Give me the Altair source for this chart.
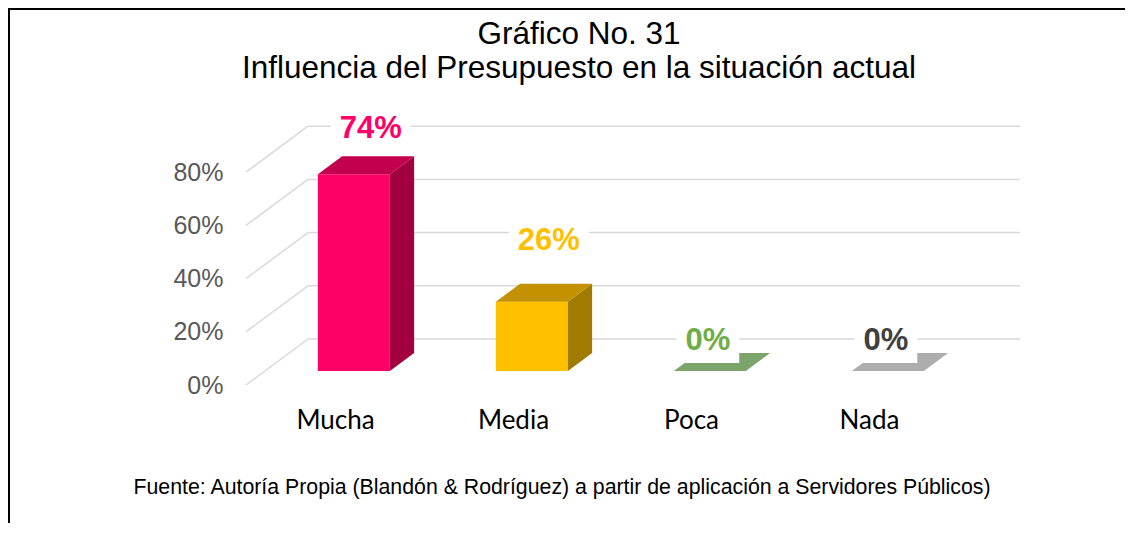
import json
import altair as alt
import pandas as pd

# ---------------- data ----------------
categories = ["Mucha", "Media", "Poca", "Nada"]
values = [74, 26, 0, 0]
front_colors = ["#FF0066", "#FFC000", "#70AD47", "#A5A5A5"]
top_colors = ["#C2004E", "#C49200", "#7DA46A", "#ADADAD"]
side_colors = ["#A3003F", "#A17A00", "#5E8A46", "#8C8C8C"]
label_colors = ["#FF0066", "#FFC000", "#70AD47", "#404040"]
y_ticks = [0, 20, 40, 60, 80]
title_lines = ["Gráfico No. 31", "Influencia del Presupuesto en la situación actual"]
source_text = "Fuente: Autoría Propia (Blandón & Rodríguez) a partir de aplicación a  Servidores Públicos)"

# ---------------- geometry (style constants) ----------------
N = len(categories)
PX_X = 178.0          # pixels per category band
PX_Y = 2.66           # pixels per percentage point
WX = 62 / PX_X        # depth of the 3D floor along x (category units)
WY = 46 / PX_Y        # depth of the 3D floor along y (percent units)
FB = 14 / 46          # depth fraction of bar front face
BB = 32 / 46          # depth fraction of bar back face
HW = 36 / PX_X        # half bar width
W = (N + WX) * PX_X
H = 100 * PX_Y
LABEL_FS = 31

xs = alt.Scale(domain=[0, N + WX], nice=False, zero=False)
ys = alt.Scale(domain=[0, 100], nice=False, zero=False)

# gridlines
back = pd.DataFrame({"x": [WX] * len(y_ticks), "x2": [N + WX] * len(y_ticks),
                     "y": [v + WY for v in y_ticks]})
diag = pd.DataFrame({"x": [0.0] * len(y_ticks), "x2": [WX] * len(y_ticks),
                     "y": [float(v) for v in y_ticks], "y2": [v + WY for v in y_ticks]})

front_rows, side_rows, top_rows, lab_rows = [], [], [], []
dx = (BB - FB) * WX
for i, (c, v) in enumerate(zip(categories, values)):
    xl = i + 0.5 - HW + FB * WX
    xr = i + 0.5 + HW + FB * WX
    front_rows.append({"cat": c, "x": xl, "x2": xr, "y": FB * WY, "y2": v + FB * WY,
                       "col": front_colors[i]})
    side_rows += [
        {"cat": c, "x": xr, "y": FB * WY, "y2": v + FB * WY, "col": side_colors[i]},
        {"cat": c, "x": xr + dx, "y": BB * WY, "y2": v + BB * WY, "col": side_colors[i]},
    ]
    ytf, ytb = v + FB * WY, v + BB * WY
    top_rows += [
        {"cat": c, "x": xl, "y": ytf, "y2": ytf, "col": top_colors[i]},
        {"cat": c, "x": xl + dx, "y": ytf, "y2": ytb, "col": top_colors[i]},
        {"cat": c, "x": xr, "y": ytf, "y2": ytb, "col": top_colors[i]},
        {"cat": c, "x": xr + dx, "y": ytb, "y2": ytb, "col": top_colors[i]},
    ]
    txt = f"{v}%"
    lx = i + 0.5 + FB * WX + ((17 if v > 0 else -2) / PX_X)
    ly = min(v * 1.44 + 16.7, 96.2)
    tw = (0.556 * len(str(v)) + 0.889) * LABEL_FS
    hw = (tw / 2 + 9) / PX_X
    hh = 22.5 / PX_Y
    lab_rows.append({"cat": c, "t": txt, "x": lx, "y": ly, "bx": lx - hw, "bx2": lx + hw,
                     "by": ly - hh, "by2": ly + hh, "col": label_colors[i]})

front = pd.DataFrame(front_rows)
side = pd.DataFrame(side_rows)
top = pd.DataFrame(top_rows)
labs = pd.DataFrame(lab_rows)

GRID = "#D9D9D9"

x_axis = alt.Axis(values=[i + 0.5 for i in range(N)],
                  labelExpr=f"{json.dumps(categories)}[floor(datum.value)]",
                  domain=False, ticks=False, tickSize=0, grid=False, labelPadding=43,
                  labelFont="Lato", labelFontSize=26, labelColor="#000000",
                  labelBaseline="alphabetic", labelOverlap=False, labelFlush=False, title=None)
y_axis = alt.Axis(values=y_ticks, labelExpr="datum.value + '%'", domain=False, ticks=False,
                  tickSize=0, grid=False, labelPadding=23, labelFont="Liberation Sans",
                  labelFontSize=25, labelColor="#595959", labelBaseline="middle", title=None)


def X(f):
    return alt.X(f, scale=xs, axis=x_axis, title=None)


def Y(f):
    return alt.Y(f, scale=ys, axis=y_axis, title=None)


grid_back = alt.Chart(back).mark_rule(color=GRID, strokeWidth=1.5).encode(
    x=X("x:Q"), x2="x2:Q", y=Y("y:Q"))
grid_diag = alt.Chart(diag).mark_rule(color=GRID, strokeWidth=1.5).encode(
    x=X("x:Q"), x2="x2:Q", y=Y("y:Q"), y2="y2:Q")

front_l = alt.Chart(front).mark_rect().encode(
    x=X("x:Q"), x2="x2:Q", y=Y("y:Q"), y2="y2:Q",
    color=alt.Color("col:N", scale=None))
side_l = alt.Chart(side).mark_area().encode(
    x=X("x:Q"), y=Y("y:Q"), y2="y2:Q",
    color=alt.Color("col:N", scale=None), detail="cat:N")
top_l = alt.Chart(top).mark_area().encode(
    x=X("x:Q"), y=Y("y:Q"), y2="y2:Q",
    color=alt.Color("col:N", scale=None), detail="cat:N")

box_l = alt.Chart(labs).mark_rect(color="white").encode(
    x=X("bx:Q"), x2="bx2:Q", y=Y("by:Q"), y2="by2:Q")
text_l = alt.Chart(labs).mark_text(font="Liberation Sans", fontSize=LABEL_FS, fontWeight="bold",
                                   baseline="middle", align="center").encode(
    x=X("x:Q"), y=Y("y:Q"),
    text="t:N", color=alt.Color("col:N", scale=None))

PAD_L, PAD_T, PAD_R, PAD_B = 238, 111, 105, 138
TOTAL_W = PAD_L + W + PAD_R
TOTAL_H = PAD_T + H + PAD_B

one = pd.DataFrame({"a": [0]})
frame_top = alt.Chart(one).mark_rule(color="black", strokeWidth=2).encode(
    x=alt.value(-PAD_L), x2=alt.value(TOTAL_W - PAD_L), y=alt.value(-PAD_T + 1))
frame_left = alt.Chart(one).mark_rule(color="black", strokeWidth=2).encode(
    x=alt.value(-PAD_L + 1), y=alt.value(-PAD_T), y2=alt.value(TOTAL_H - PAD_T))

t1 = alt.Chart(pd.DataFrame({"t": [title_lines[0]]})).mark_text(
    font="Liberation Sans", fontSize=31.5, color="black", align="center", baseline="alphabetic"
).encode(x=alt.value(333), y=alt.value(-75), text="t:N")
t2 = alt.Chart(pd.DataFrame({"t": [title_lines[1]]})).mark_text(
    font="Liberation Sans", fontSize=31.5, color="black", align="center", baseline="alphabetic"
).encode(x=alt.value(333), y=alt.value(-41), text="t:N")
src = alt.Chart(pd.DataFrame({"t": [source_text]})).mark_text(
    font="Liberation Sans", fontSize=21.3, color="black", align="center", baseline="alphabetic"
).encode(x=alt.value(316), y=alt.value(375), text="t:N")

chart = alt.layer(
    grid_back, grid_diag, front_l, side_l, top_l, box_l, text_l,
    frame_top, frame_left, t1, t2, src
).properties(
    width=W, height=H,
    autosize=alt.AutoSizeParams(type="none"),
    padding={"left": PAD_L, "top": PAD_T, "right": PAD_R, "bottom": PAD_B},
    background="white",
).configure_view(strokeWidth=0)

chart.save("out.html", embed_options={"renderer": "svg", "actions": False})
